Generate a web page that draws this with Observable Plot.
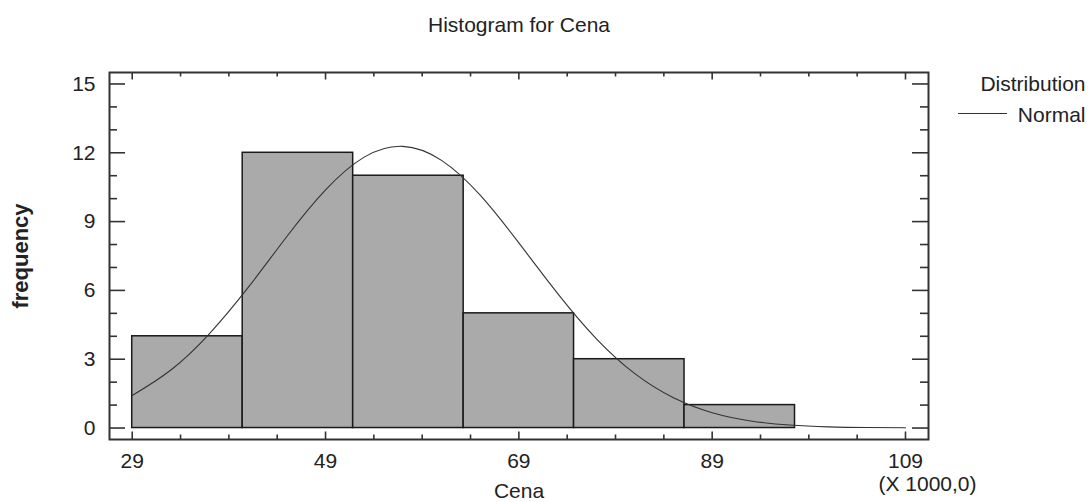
<!DOCTYPE html>
<html>
<head>
<meta charset="utf-8">
<script src="https://cdn.jsdelivr.net/npm/d3@7"></script>
<script src="https://cdn.jsdelivr.net/npm/@observablehq/plot@0.6"></script>
<style>
  body { margin: 0; background: #fff; }
  svg { display: block; }
</style>
</head>
<body>
<div id="chart"></div>
<script>
// ---- data ----
const binStart = [29, 40.43, 51.86, 63.29, 74.71, 86.14];
const binEnd   = [40.43, 51.86, 63.29, 74.71, 86.14, 97.57];
const counts   = [4, 12, 11, 5, 3, 1];

// fitted normal curve
const curveX = [29, 33, 37, 41, 45, 49, 53, 57, 61, 65, 69, 73, 77, 81, 85, 89, 93, 97, 101, 105, 109];
const curveY = [1.42, 2.53, 4.12, 6.13, 8.35, 10.38, 11.81, 12.28, 11.67, 10.15, 8.07, 5.87, 3.90, 2.37, 1.32, 0.67, 0.31, 0.13, 0.05, 0.02, 0.01];

const xMajor = [29, 49, 69, 89, 109];
const xMinor = [34, 39, 44, 54, 59, 64, 74, 79, 84, 94, 99, 104];
const yMajor = [0, 3, 6, 9, 12, 15];
const yMinor = [1, 2, 4, 5, 7, 8, 10, 11, 13, 14];

const titleText = "Histogram for Cena";
const xLabel = "Cena";
const xScaleNote = "(X 1000,0)";
const yLabel = "frequency";
const legendTitle = "Distribution";
const legendItem = "Normal";

// ---- build ----
const bars = binStart.map((s, i) => ({x1: s, x2: binEnd[i], count: counts[i]}));
const curve = curveX.map((x, i) => ({x, y: curveY[i]}));

const W = 1089, H = 502;
const mL = 109, mR = 161, mT = 72, mB = 63;
const fw = W - mL - mR, fh = H - mT - mB;
const FONT = "'Liberation Sans', Arial, Helvetica, sans-serif";
const axisColor = "#333";

const legendLine = (index, scales, values, dims) => {
  const x0 = dims.width - dims.marginRight;
  return d3.create("svg:line")
    .attr("x1", x0 + 30).attr("x2", x0 + 79)
    .attr("y1", dims.marginTop + 41.5).attr("y2", dims.marginTop + 41.5)
    .attr("stroke", "#333").attr("stroke-width", 1.2)
    .node();
};

const txt = {fontSize: 21, fill: "#222", lineAnchor: "middle"};

const chart = Plot.plot({
  width: W,
  height: H,
  marginLeft: mL,
  marginRight: mR,
  marginTop: mT,
  marginBottom: mB,
  style: {fontFamily: FONT, fontSize: "21px", color: "#222", background: "#fff"},
  x: {domain: [26.65, 111.38]},
  y: {domain: [-0.5, 15.5]},
  marks: [
    Plot.rect(bars, {x1: "x1", x2: "x2", y1: 0, y2: "count", fill: "#aaaaaa", stroke: "#1a1a1a", strokeWidth: 1.5}),
    Plot.line(curve, {x: "x", y: "y", curve: "natural", stroke: "#333", strokeWidth: 1.1}),
    // ticks (inward, all four sides)
    Plot.tickX(xMajor, {x: d => d, insetTop: fh - 7.5, stroke: axisColor, strokeWidth: 1.6}),
    Plot.tickX(xMinor, {x: d => d, insetTop: fh - 4.5, stroke: axisColor, strokeWidth: 1.6}),
    Plot.tickX(xMajor, {x: d => d, insetBottom: fh - 7.5, stroke: axisColor, strokeWidth: 1.6}),
    Plot.tickX(xMinor, {x: d => d, insetBottom: fh - 4.5, stroke: axisColor, strokeWidth: 1.6}),
    Plot.tickY(yMajor, {y: d => d, insetRight: fw - 16, stroke: axisColor, strokeWidth: 1.6}),
    Plot.tickY(yMinor, {y: d => d, insetRight: fw - 8, stroke: axisColor, strokeWidth: 1.6}),
    Plot.tickY(yMajor, {y: d => d, insetLeft: fw - 16, stroke: axisColor, strokeWidth: 1.6}),
    Plot.tickY(yMinor, {y: d => d, insetLeft: fw - 8, stroke: axisColor, strokeWidth: 1.6}),
    Plot.frame({stroke: axisColor, strokeWidth: 2}),
    // tick labels
    Plot.axisX(xMajor, {tickSize: 0, tickPadding: 14, label: null, fontSize: 21}),
    Plot.axisY(yMajor, {tickSize: 0, tickPadding: 14, label: null, fontSize: 21}),
    // texts
    Plot.text([titleText], {...txt, frameAnchor: "top", textAnchor: "middle", dy: -47}),
    Plot.text([xLabel], {...txt, frameAnchor: "bottom", textAnchor: "middle", dy: 52}),
    Plot.text([xScaleNote], {...txt, frameAnchor: "bottom-right", textAnchor: "middle", dx: -1, dy: 45}),
    Plot.text([yLabel], {...txt, frameAnchor: "left", textAnchor: "middle", dx: -89, rotate: -90, fontSize: 22, fontWeight: "bold"}),
    Plot.text([legendTitle], {...txt, frameAnchor: "top-right", textAnchor: "end", dx: 157, dy: 11.3}),
    Plot.text([legendItem], {...txt, frameAnchor: "top-right", textAnchor: "end", dx: 157, dy: 43}),
    legendLine
  ]
});

document.getElementById("chart").appendChild(chart);
</script>
</body>
</html>
